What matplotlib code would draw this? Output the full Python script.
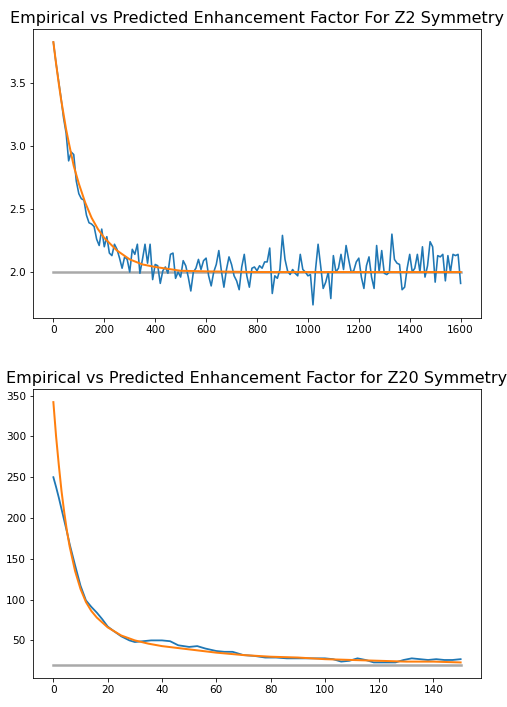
import matplotlib
matplotlib.use('Agg')
import matplotlib.pyplot as plt

# Z2 symmetry: empirical enhancement factor, sampled every 10 steps
z2_x = list(range(0, 1610, 10))
z2_empirical = [
    3.82, 3.66, 3.52, 3.38, 3.22, 3.10, 2.88, 2.95, 2.93, 2.72,
    2.62, 2.58, 2.57, 2.45, 2.39, 2.38, 2.36, 2.26, 2.21, 2.34,
    2.20, 2.28, 2.15, 2.13, 2.22, 2.18, 2.11, 2.03, 2.12, 2.10,
    2.00, 2.18, 2.14, 2.22, 1.99, 2.10, 2.22, 2.07, 2.22, 1.94,
    2.06, 2.05, 1.91, 2.01, 2.04, 1.99, 2.14, 2.15, 1.95, 2.00,
    1.96, 2.09, 2.05, 1.96, 1.85, 2.00, 2.03, 2.10, 2.02, 2.09,
    2.11, 1.97, 1.89, 2.00, 2.06, 2.17, 2.01, 1.88, 2.02, 2.12,
    2.06, 1.97, 1.93, 1.86, 2.04, 2.14, 1.97, 1.88, 2.03, 2.04,
    2.01, 2.05, 2.03, 2.08, 2.08, 2.19, 1.83, 1.97, 1.95, 2.02,
    2.29, 2.10, 2.01, 1.98, 2.02, 1.99, 1.97, 2.14, 2.02, 2.00,
    1.97, 1.98, 1.74, 2.02, 2.22, 2.05, 1.87, 1.92, 2.00, 1.79,
    2.13, 2.00, 2.03, 2.14, 2.02, 2.21, 2.10, 2.00, 2.01, 2.08,
    2.11, 1.96, 1.87, 2.05, 2.12, 1.96, 1.87, 2.21, 2.00, 2.17,
    1.99, 1.98, 2.00, 2.30, 2.10, 2.07, 2.06, 1.86, 1.88, 2.03,
    2.14, 2.00, 2.03, 2.14, 2.00, 2.20, 1.96, 2.05, 2.24, 2.20,
    1.92, 2.13, 2.12, 2.14, 1.93, 2.13, 2.00, 2.14, 2.13, 2.14,
    1.91,
]
# predicted curve
z2_pred_x = [0, 10, 20, 30, 40, 50, 60, 80, 100, 125, 150, 175, 200,
             250, 300, 350, 400, 500, 600, 800, 1000, 1600]
z2_predicted = [3.82, 3.66, 3.51, 3.37, 3.25, 3.13, 3.03, 2.84, 2.70,
                2.55, 2.43, 2.34, 2.27, 2.17, 2.10, 2.06, 2.04, 2.01,
                2.005, 2.0, 2.0, 2.0]
z2_limit = 2.0

# Z20 symmetry
z20_x = [0, 1, 2, 3, 4, 5, 6, 8, 10, 12, 14, 16, 18, 20, 22, 25, 28, 30,
         33, 36, 40, 43, 46, 50, 53, 56, 60, 63, 66, 70, 74, 78, 82, 86,
         90, 95, 100, 103, 106, 109, 112, 115, 118, 122, 126, 129, 132,
         135, 138, 141, 144, 147, 150]
z20_empirical = [250, 238, 225, 211, 197, 183, 168, 142, 117, 99, 91, 84,
                 76, 67, 62, 55, 50, 48, 49, 50, 50, 49, 44, 42, 43, 40,
                 37, 36, 36, 32, 31, 29, 29, 28, 28, 28, 28, 27, 24, 25,
                 28, 26, 23, 23, 23, 26, 28, 27, 26, 27, 26, 26, 27]
z20_pred_x = [0, 1, 2, 3, 4, 5, 6, 8, 10, 12, 14, 16, 20, 25, 30, 35, 40,
              50, 60, 70, 80, 90, 100, 110, 120, 130, 140, 150]
z20_predicted = [342, 300, 265, 233, 207, 184, 165, 135, 113, 97, 86, 78,
                 66, 56, 50, 46, 43, 39, 35, 32, 30, 29, 27, 26, 25, 24,
                 24, 23]
z20_limit = 20

fig = plt.figure(figsize=(507 / 72, 707 / 72), dpi=72)
ax1 = fig.add_axes([0.0651, 0.5502, 0.8836, 0.4088])
ax2 = fig.add_axes([0.0651, 0.0410, 0.8836, 0.4088])

ax1.plot([z2_x[0], z2_x[-1]], [z2_limit, z2_limit], color='darkgrey', lw=2.5)
ax1.plot(z2_x, z2_empirical, color='C0', lw=1.6)
ax1.plot(z2_pred_x, z2_predicted, color='C1', lw=2)
ax1.set_title('Empirical vs Predicted Enhancement Factor For Z2 Symmetry', fontsize=16)

ax2.plot([z20_x[0], z20_x[-1]], [z20_limit, z20_limit], color='darkgrey', lw=2.5)
ax2.plot(z20_x, z20_empirical, color='C0', lw=1.8)
ax2.plot(z20_pred_x, z20_predicted, color='C1', lw=2)
ax2.set_title('Empirical vs Predicted Enhancement Factor for Z20 Symmetry', fontsize=16)

for ax in (ax1, ax2):
    ax.tick_params(labelsize=10.5)

fig.savefig('out.png', dpi=72)
